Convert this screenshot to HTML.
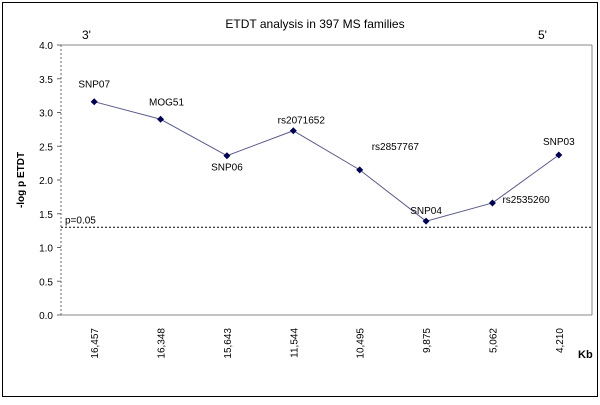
<!DOCTYPE html>
<html><head><meta charset="utf-8"><style>
body{margin:0;background:#fff}
svg text{font-family:"Liberation Sans",sans-serif;fill:#000}
</style></head><body>
<svg width="600" height="400">
<rect x="2.5" y="2.5" width="595" height="394" fill="#fff" stroke="#000" stroke-width="1"/>
<text x="315" y="28" font-size="12" text-anchor="middle">ETDT analysis in 397 MS families</text>
<text x="82" y="39" font-size="12">3'</text>
<text x="538" y="39" font-size="12">5'</text>
<text x="578" y="358" font-size="11" font-weight="bold">Kb</text>
<text transform="translate(24,180) rotate(-90)" font-size="10" font-weight="bold" text-anchor="middle">-log p ETDT</text>
<g id="plot"></g>
</svg>
<script>
const categories=["16,457","16,348","15,643","11,544","10,495","9,875","5,062","4,210"];
const snpNames=["SNP07","MOG51","SNP06","rs2071652","rs2857767","SNP04","rs2535260","SNP03"];
const values=[3.16,2.90,2.36,2.73,2.15,1.39,1.66,2.37];
const yTicks=[0,0.5,1,1.5,2,2.5,3,3.5,4];
const threshold=[1.3];
const L=61,R=592,T=45,B=315,yMax=4;
const ns="http://www.w3.org/2000/svg";
const g=document.getElementById('plot');
function y(v){return B-(v/yMax)*(B-T);}
function x(i){return L+(i+0.5)*(R-L)/categories.length;}
function mk(t,a,p){const e=document.createElementNS(ns,t);for(const k in a)e.setAttribute(k,a[k]);(p||g).appendChild(e);return e;}
let e;
e=mk('line',{x1:L,y1:T,x2:R,y2:T,stroke:'#888'});


e=mk('line',{x1:R,y1:T,x2:R,y2:B,stroke:'#888'});


e=mk('line',{x1:L,y1:B,x2:R,y2:B,stroke:'#888'});


e=mk('line',{x1:L,y1:T,x2:L,y2:B,stroke:'#666','stroke-dasharray':'2,2'});


yTicks.forEach(v=>{
 e=mk('line',{x1:L-4,y1:y(v),x2:L,y2:y(v),stroke:'#666'});
 
 
 e=mk('text',{x:L-8,y:y(v)+4,'font-size':'10','text-anchor':'end'});
 e.textContent=v.toFixed(1);
 
 
});
categories.forEach((c,i)=>{
 e=mk('text',{transform:`translate(${x(i)+4},${B+13}) rotate(-90)`,'font-size':'10','text-anchor':'end'});
 e.textContent=c;
 
 
});
e=mk('line',{x1:L,y1:y(threshold[0]),x2:R,y2:y(threshold[0]),stroke:'#000','stroke-dasharray':'2,2'});


e=mk('text',{x:L+4,y:y(threshold[0])-4,'font-size':'10'});
e.textContent='p=0.05';


e=mk('polyline',{points:values.map((v,i)=>x(i)+','+y(v)).join(' '),fill:'none',stroke:'#5a5a8a','stroke-width':'1'});


const lblPos=[[0,-14,'middle'],[6,-14,'middle'],[0,15,'middle'],[8,-7,'middle'],[8,-20,'start'],[0,-7,'middle'],[6,0,'start'],[0,-10,'middle']];
values.forEach((v,i)=>{
 const cx=x(i),cy=y(v);
 e=mk('polygon',{points:`${cx},${cy-3.5} ${cx+3.5},${cy} ${cx},${cy+3.5} ${cx-3.5},${cy}`,fill:'#000050'});
 
 
 const p=lblPos[i];
 e=mk('text',{x:cx+p[0]+(p[2]==='start'?4:0),y:cy+p[1],'font-size':'10','text-anchor':p[2]});
 e.textContent=snpNames[i];
 
 
});
</script>
</body></html>
